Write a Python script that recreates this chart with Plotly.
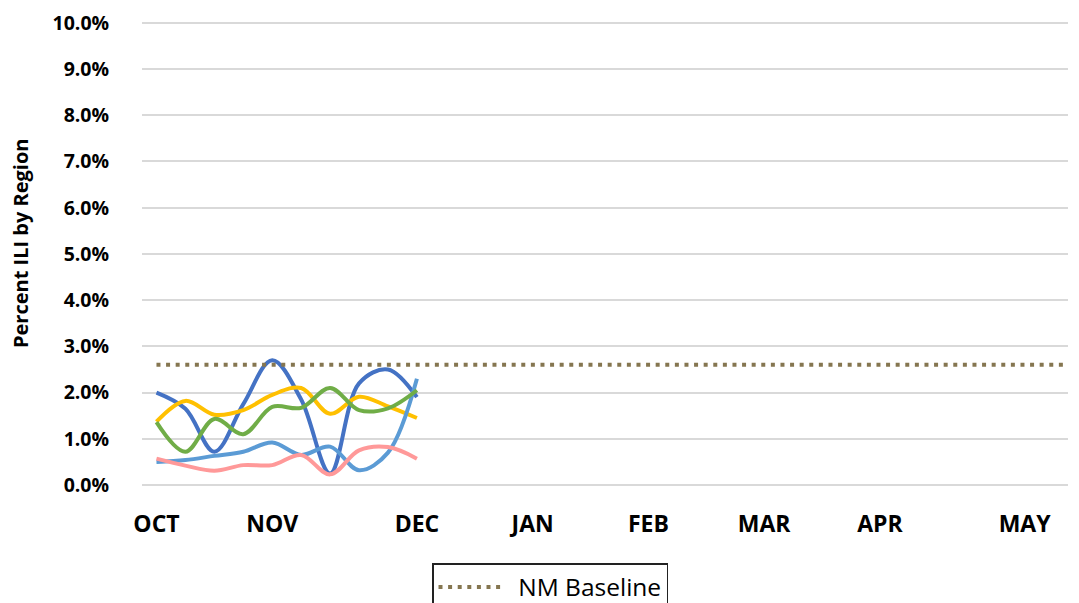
import plotly.graph_objects as go

# ---- data (percent ILI, weekly, season weeks 40 .. 19) ----
weeks = list(range(32))
month_labels = ["OCT", "NOV", "DEC", "JAN", "FEB", "MAR", "APR", "MAY"]
month_week_index = [0, 4, 9, 13, 17, 21, 25, 30]
y_tick_values = [0, 1, 2, 3, 4, 5, 6, 7, 8, 9, 10]
y_tick_labels = ["0.0%", "1.0%", "2.0%", "3.0%", "4.0%", "5.0%",
                 "6.0%", "7.0%", "8.0%", "9.0%", "10.0%"]

region_names = ["Northwest", "Northeast", "Metro", "Southeast", "Southwest"]
region_a = [2.0, 1.65, 0.72, 1.75, 2.7, 1.85, 0.25, 2.2, 2.5, 1.9]     # dark blue
region_b = [1.37, 1.82, 1.52, 1.62, 1.95, 2.1, 1.54, 1.91, 1.7, 1.45]  # yellow
region_c = [0.5, 0.54, 0.63, 0.72, 0.92, 0.65, 0.83, 0.32, 0.7, 2.3]   # light blue
region_d = [1.36, 0.72, 1.43, 1.1, 1.69, 1.67, 2.1, 1.62, 1.66, 2.05]  # green
region_e = [0.57, 0.42, 0.31, 0.43, 0.43, 0.65, 0.23, 0.75, 0.82, 0.57]  # pink
nm_baseline = 2.6

colors = ["#4472C4", "#FFC000", "#5B9BD5", "#70AD47", "#FF9999"]
series = [region_a, region_b, region_c, region_d, region_e]

x_range = [-0.5, 31.5]

fig = go.Figure()
for name, vals, col in zip(region_names, series, colors):
    fig.add_trace(go.Scatter(
        x=weeks[:len(vals)], y=vals, mode="lines", name=name,
        line=dict(color=col, width=4, shape="spline", smoothing=1.0),
        showlegend=False, hoverinfo="skip",
    ))

fig.add_trace(go.Scatter(
    x=[weeks[0], x_range[1]], y=[nm_baseline, nm_baseline], mode="lines",
    name="\u00a0\u00a0NM Baseline",
    line=dict(color="#857650", width=4, dash="4px,5.6px"),
))

fig.update_layout(
    width=1079, height=603,
    margin=dict(l=142, r=11, t=21, b=118, autoexpand=False),
    paper_bgcolor="white", plot_bgcolor="white",
    font=dict(family="Open Sans", color="black"),
    xaxis=dict(
        range=x_range, tickmode="array", tickvals=month_week_index,
        ticktext=month_labels, showgrid=False, zeroline=False,
        showline=False, ticks="outside", ticklen=18, tickangle=0,
        automargin=False,
        tickcolor="rgba(0,0,0,0)",
        tickfont=dict(family="Open Sans", size=23, color="black", weight="bold"),
    ),
    yaxis=dict(
        range=[0, 10.04], tickmode="array", tickvals=y_tick_values,
        ticktext=y_tick_labels,
        showgrid=True, gridcolor="#D9D9D9", gridwidth=1.5,
        zeroline=True, zerolinecolor="#D9D9D9", zerolinewidth=1.5,
        showline=False, ticks="outside", ticklen=28, automargin=False,
        tickcolor="rgba(0,0,0,0)",
        tickfont=dict(family="Open Sans", size=19.5, color="black", weight="bold"),
    ),
    legend=dict(
        xref="container", yref="container",
        x=432 / 1079, y=1 - 563 / 603, xanchor="left", yanchor="top",
        bordercolor="#222222", borderwidth=1.5, bgcolor="white",
        itemwidth=62,
        font=dict(family="Open Sans", size=24.5, color="black"),
    ),
    annotations=[dict(
        text="Percent ILI by Region", textangle=-90, showarrow=False,
        xref="paper", yref="paper", x=(20 - 142) / 926, y=(485 - 243) / 464,
        xanchor="center", yanchor="middle",
        font=dict(family="Open Sans", size=20, color="black", weight="bold"),
    )],
)

fig.write_html("out.html", config={"displayModeBar": False},
               post_script="document.body.style.margin='0';")
